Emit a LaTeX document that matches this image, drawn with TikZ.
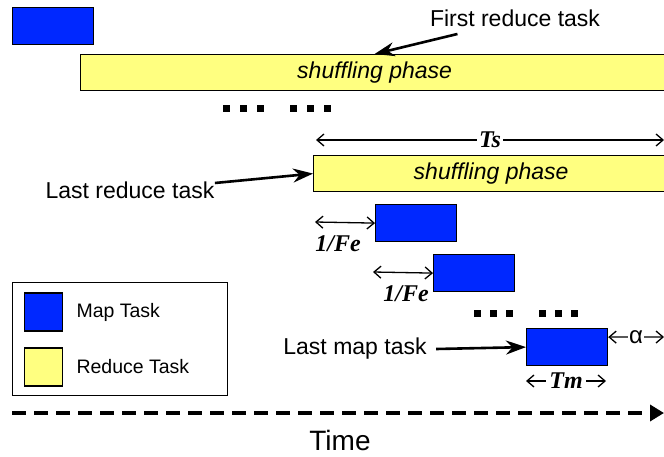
\documentclass[tikz,border=0pt]{standalone}
\usepackage{fontspec}
\setmainfont{Liberation Sans}
\newfontfamily\serifbi{Liberation Serif}
\usetikzlibrary{arrows.meta}
\usetikzlibrary{positioning}

\definecolor{mapblue}{RGB}{0,40,255}
\definecolor{reduceyellow}{RGB}{255,255,128}
\tikzset{
  maptask/.style={draw,line width=1.2pt,fill=mapblue,minimum width=81pt,minimum height=37pt,inner sep=0pt},
  reducetask/.style={draw,line width=1.2pt,fill=reduceyellow,minimum height=36pt,inner sep=0pt,font=\fontsize{23}{26}\selectfont\itshape},
  pointer/.style={-{Stealth[length=20pt,width=14pt]},line width=2.6pt},
  span/.style={{Straight Barb[length=7pt,width=12pt]}-{Straight Barb[length=7pt,width=12pt]},line width=1.3pt},
  spanlabel/.style={fill=white,inner sep=2pt,font=\serifbi\fontsize{24}{26}\selectfont\bfseries\itshape},
  bigtext/.style={font=\fontsize{23}{26}\selectfont},
  legendtext/.style={font=\fontsize{19.5}{22}\selectfont,anchor=west},
}

\begin{document}
\begin{tikzpicture}[x=1pt,y=-1pt]
\useasboundingbox(0,0)rectangle(664,457);

\node[maptask,anchor=north west](map0)at(12,7){};
\node[reducetask,anchor=north west,minimum width=588pt](red1)at(80,54){shuffling phase};
\node[bigtext](first)at(515,18){First reduce task};
\draw[pointer]([xshift=31pt,yshift=-4pt]first.south west)--(red1.north);

\foreach \x in {226,243,260,293,310,327}
  \fill(\x-3.5,105.5)rectangle++(7,7);

\node[reducetask,anchor=north west,minimum width=355pt](red2)at(313,155){shuffling phase};
\coordinate(tsl)at(316,140);
\coordinate(tsr)at(664,140);
\draw[span](tsl)--node[spanlabel]{Ts}(tsr);
\node[bigtext](lastred)at(130,190){Last reduce task};
\draw[pointer]([xshift=-3pt,yshift=7pt]lastred.east)--(red2.west);

\node[maptask,anchor=north west](map1)at(375,204){};
\node[maptask,anchor=north west](map2)at(433,254){};
\coordinate(fe1)at(315,222);
\coordinate(fe2)at(373,272);
\draw[span](fe1)--node[below,spanlabel,fill=none,inner sep=0pt,xshift=-7pt,yshift=-12pt]{1/Fe}(map1.west);
\draw[span](fe2)--node[below,spanlabel,fill=none,inner sep=0pt,xshift=3pt,yshift=-12pt]{1/Fe}(map2.west);

\foreach \x in {477,493,509,542,558,574}
  \fill(\x-3.5,309.5)rectangle++(7,7);

\node[maptask,anchor=north west](map3)at(526,328){};
\node[bigtext](lastmap)at(355,349){Last map task};
\draw[pointer]([xshift=6pt]lastmap.east)--(map3.west);
\coordinate(alr)at(664,337);
\draw[span]([yshift=10pt]map3.east)--node[fill=white,inner sep=1pt,font=\fontsize{24}{26}\selectfont]{α}(alr);
\coordinate(tml)at(526,381);
\coordinate(tmr)at(606,381);
\draw[span](tml)--node[spanlabel,inner sep=3pt]{Tm}(tmr);

\draw[line width=1pt](12,282)rectangle(227,395);
\node[draw,line width=1.2pt,fill=mapblue,minimum size=38pt,inner sep=0pt](keymap)at(43.5,312){};
\node[draw,line width=1.2pt,fill=reduceyellow,minimum size=38pt,inner sep=0pt](keyred)at(43.5,367){};
\node[legendtext](keymaptext)at(73,312){Map Task};
\node[legendtext](keyredtext)at(73,367){Reduce Task};

\coordinate(t0)at(12,413);
\coordinate(t1)at(664,413);
\draw[line width=4pt,dash pattern=on 14pt off 8pt,-{Triangle[length=14pt,width=16pt]}](t0)--(t1);
\node[font=\fontsize{28}{32}\selectfont](time)at(340,440){Time};
\end{tikzpicture}
\end{document}
